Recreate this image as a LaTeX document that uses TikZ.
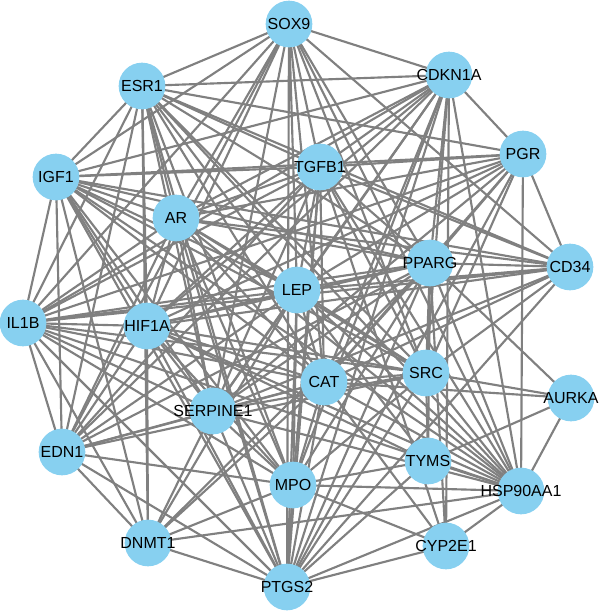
\documentclass[tikz,border=0pt]{standalone}
\usepackage{fontspec}
\setmainfont{Liberation Sans}
\usetikzlibrary{backgrounds}
\begin{document}
\begin{tikzpicture}[x=0.75pt,y=-0.75pt,
  gn/.style={circle,fill=nodeblue,draw=none,minimum size=35pt,inner sep=0pt,font=\fontsize{12}{12}\selectfont,text=black},
  edge/.style={draw=edgegray,line width=1.6pt}]
\definecolor{nodeblue}{RGB}{135,208,240}
\definecolor{edgegray}{RGB}{128,128,128}
\useasboundingbox (0,0) rectangle (600,612);
\node[gn] (SOX9) at (289,24) {\makebox[0pt]{SOX9}};
\node[gn] (CDKN1A) at (449,75) {\makebox[0pt]{CDKN1A}};
\node[gn] (ESR1) at (142,86) {\makebox[0pt]{ESR1}};
\node[gn] (PGR) at (523,154) {\makebox[0pt]{PGR}};
\node[gn] (TGFB1) at (320,167) {\makebox[0pt]{TGFB1}};
\node[gn] (IGF1) at (56,177) {\makebox[0pt]{IGF1}};
\node[gn] (AR) at (176,218) {\makebox[0pt]{AR}};
\node[gn] (CD34) at (570,267) {\makebox[0pt]{CD34}};
\node[gn] (PPARG) at (430,263) {\makebox[0pt]{PPARG}};
\node[gn] (LEP) at (297,290) {\makebox[0pt]{LEP}};
\node[gn] (IL1B) at (23,323) {\makebox[0pt]{IL1B}};
\node[gn] (HIF1A) at (147,326) {\makebox[0pt]{HIF1A}};
\node[gn] (SRC) at (426,373) {\makebox[0pt]{SRC}};
\node[gn] (CAT) at (324,382) {\makebox[0pt]{CAT}};
\node[gn] (AURKA) at (571,398) {\makebox[0pt]{AURKA}};
\node[gn] (SERPINE1) at (213,411) {\makebox[0pt]{SERPINE1}};
\node[gn] (EDN1) at (62,452) {\makebox[0pt]{EDN1}};
\node[gn] (TYMS) at (428,461) {\makebox[0pt]{TYMS}};
\node[gn] (MPO) at (293,485) {\makebox[0pt]{MPO}};
\node[gn] (HSP90AA1) at (521,491) {\makebox[0pt]{HSP90AA1}};
\node[gn] (DNMT1) at (148,543) {\makebox[0pt]{DNMT1}};
\node[gn] (CYP2E1) at (446,546) {\makebox[0pt]{CYP2E1}};
\node[gn] (PTGS2) at (287,587) {\makebox[0pt]{PTGS2}};
\begin{pgfonlayer}{background}
\foreach \a/\b in {
SOX9/ESR1, SOX9/CDKN1A, SOX9/IGF1, SOX9/IL1B, SOX9/AR, SOX9/HIF1A, SOX9/SERPINE1, SOX9/EDN1, SOX9/LEP, SOX9/TGFB1, SOX9/PTGS2, SOX9/PPARG, SOX9/SRC, SOX9/CAT, SOX9/CD34, SOX9/HSP90AA1,
CDKN1A/ESR1, CDKN1A/IGF1, CDKN1A/AR, CDKN1A/TGFB1, CDKN1A/LEP, CDKN1A/HIF1A, CDKN1A/IL1B, CDKN1A/SERPINE1, CDKN1A/CAT, CDKN1A/MPO, CDKN1A/PTGS2, CDKN1A/PPARG, CDKN1A/SRC, CDKN1A/HSP90AA1, CDKN1A/CYP2E1, CDKN1A/PGR, CDKN1A/EDN1,
PGR/ESR1, PGR/TGFB1, PGR/IGF1, PGR/AR, PGR/LEP, PGR/IL1B, PGR/HIF1A, PGR/PPARG, PGR/SRC, PGR/CAT, PGR/PTGS2, PGR/HSP90AA1, PGR/CD34, PGR/SERPINE1,
ESR1/TGFB1, ESR1/CD34, ESR1/PPARG, ESR1/LEP, ESR1/SRC, ESR1/CAT, ESR1/HSP90AA1, ESR1/AR, ESR1/HIF1A, ESR1/SERPINE1, ESR1/MPO, ESR1/PTGS2, ESR1/DNMT1, ESR1/EDN1, ESR1/IL1B, ESR1/IGF1,
TGFB1/IGF1, TGFB1/AR, TGFB1/LEP, TGFB1/HIF1A, TGFB1/IL1B, TGFB1/PPARG, TGFB1/CD34, TGFB1/SRC, TGFB1/CAT, TGFB1/SERPINE1, TGFB1/MPO, TGFB1/PTGS2, TGFB1/EDN1, TGFB1/HSP90AA1, TGFB1/CYP2E1,
IGF1/AR, IGF1/LEP, IGF1/HIF1A, IGF1/IL1B, IGF1/PPARG, IGF1/CD34, IGF1/SRC, IGF1/CAT, IGF1/SERPINE1, IGF1/EDN1, IGF1/MPO, IGF1/PTGS2, IGF1/DNMT1, IGF1/HSP90AA1,
AR/LEP, AR/HIF1A, AR/IL1B, AR/PPARG, AR/CD34, AR/SRC, AR/CAT, AR/SERPINE1, AR/EDN1, AR/PTGS2, AR/HSP90AA1, AR/MPO,
CD34/LEP, CD34/HIF1A, CD34/IL1B, CD34/PPARG, CD34/SRC, CD34/CAT, CD34/SERPINE1, CD34/PTGS2,
PPARG/LEP, PPARG/HIF1A, PPARG/IL1B, PPARG/SRC, PPARG/CAT, PPARG/SERPINE1, PPARG/EDN1, PPARG/MPO, PPARG/PTGS2, PPARG/HSP90AA1, PPARG/TYMS, PPARG/CYP2E1, PPARG/AURKA, PPARG/DNMT1,
LEP/HIF1A, LEP/IL1B, LEP/SRC, LEP/CAT, LEP/SERPINE1, LEP/EDN1, LEP/MPO, LEP/PTGS2, LEP/HSP90AA1, LEP/DNMT1, LEP/TYMS,
IL1B/HIF1A, IL1B/SRC, IL1B/CAT, IL1B/SERPINE1, IL1B/EDN1, IL1B/MPO, IL1B/PTGS2, IL1B/HSP90AA1, IL1B/DNMT1,
HIF1A/SRC, HIF1A/CAT, HIF1A/SERPINE1, HIF1A/EDN1, HIF1A/MPO, HIF1A/PTGS2, HIF1A/HSP90AA1, HIF1A/DNMT1, HIF1A/TYMS,
SRC/CAT, SRC/SERPINE1, SRC/EDN1, SRC/PTGS2, SRC/HSP90AA1, SRC/AURKA, SRC/TYMS, SRC/MPO,
CAT/SERPINE1, CAT/EDN1, CAT/MPO, CAT/PTGS2, CAT/HSP90AA1, CAT/AURKA, CAT/CYP2E1, CAT/DNMT1,
SERPINE1/EDN1, SERPINE1/MPO, SERPINE1/PTGS2, SERPINE1/HSP90AA1, SERPINE1/DNMT1,
EDN1/MPO, EDN1/PTGS2, EDN1/DNMT1,
TYMS/AURKA, TYMS/HSP90AA1, TYMS/MPO, TYMS/PTGS2,
MPO/PTGS2, MPO/HSP90AA1, MPO/DNMT1, MPO/CYP2E1,
HSP90AA1/AURKA, HSP90AA1/CYP2E1, HSP90AA1/PTGS2, HSP90AA1/DNMT1,
CYP2E1/PTGS2, DNMT1/PTGS2}
  \draw[edge] (\a.center) -- (\b.center);
\end{pgfonlayer}
\end{tikzpicture}
\end{document}
